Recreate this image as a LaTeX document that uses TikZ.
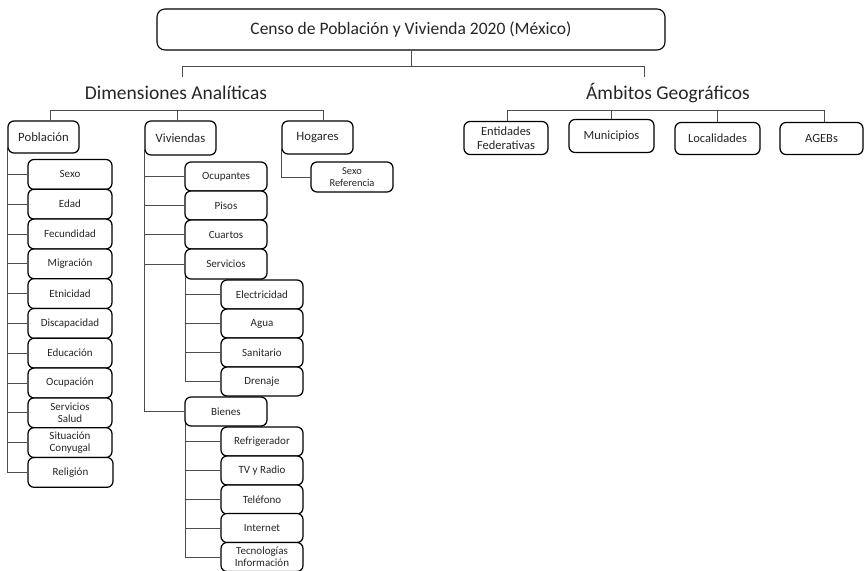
\documentclass[tikz,border=0pt]{standalone}
\usepackage{fontspec}
\setmainfont{Carlito}
\usetikzlibrary{backgrounds}
\begin{document}
\begin{tikzpicture}[x=1pt,y=-1pt,
  box/.style={draw=black, line width=1.25pt, rounded corners=6pt, fill=white, inner sep=0pt, align=center, text=black!85},
  sbox/.style={box, minimum width=84pt, minimum height=29.8pt, font=\fontsize{11}{12.5}\selectfont},
  vbox/.style={box, minimum width=82pt, minimum height=29pt, font=\fontsize{11}{12.5}\selectfont},
  mbox/.style={box, font=\fontsize{12.75}{14.5}\selectfont},
  gbox/.style={box, font=\fontsize{12.5}{14.5}\selectfont},
  conn/.style={draw=black!70, line width=0.9pt},
  hdr/.style={font=\fontsize{19.5}{22}\selectfont, inner sep=0pt, text=black!85}
]
\useasboundingbox (0,0) rectangle (864,570);

% title and headers
\node[box, line width=1.1pt, rounded corners=8pt, minimum width=508pt, minimum height=41pt, font=\fontsize{17.5}{20}\selectfont] (title) at (411,29.5) {Censo de Población y Vivienda 2020 (México)};
\node[hdr] (dim) at (176,93) {Dimensiones Analíticas};
\node[hdr] (amb) at (668,93) {Ámbitos Geográficos};
\coordinate (dimtop) at (182,77);
\coordinate (ambtop) at (644,77);
\coordinate (bar) at (0,110);

% level 2
\node[mbox, minimum width=71pt, minimum height=32pt] (pob) at (43.5,137) {Población};
\node[mbox, minimum width=71pt, minimum height=34pt] (viv) at (180.5,138) {Viviendas};
\node[mbox, minimum width=71pt, minimum height=33pt] (hog) at (317.5,137.5) {Hogares};

\node[gbox, minimum width=84pt, minimum height=33pt] (ent) at (506,138) {Entidades\\Federativas};
\node[gbox, minimum width=85pt, minimum height=33pt] (mun) at (611.5,136) {Municipios};
\node[gbox, minimum width=85pt, minimum height=32pt] (loc) at (717.5,138.5) {Localidades};
\node[gbox, minimum width=83pt, minimum height=32pt] (ageb) at (821.5,138.5) {AGEBs};

% Poblacion children
\node[sbox] (sexo) at (70,174.4) {Sexo};
\node[sbox] (edad) at (70,204.2) {Edad};
\node[sbox] (fec) at (70,234) {Fecundidad};
\node[sbox] (mig) at (70,263.8) {Migración};
\node[sbox] (etn) at (70,293.6) {Etnicidad};
\node[sbox] (disc) at (70,323.4) {Discapacidad};
\node[sbox] (edu) at (70,353.2) {Educación};
\node[sbox] (ocu) at (70,383) {Ocupación};
\node[sbox, font=\fontsize{11}{12}\selectfont] (salud) at (70,412.8) {Servicios\\Salud};
\node[sbox, font=\fontsize{11}{12}\selectfont] (conyu) at (70,442.6) {Situación\\Conyugal};
\node[sbox, minimum width=85pt] (rel) at (70.5,472.4) {Religión};

% Viviendas children
\node[vbox] (ocup) at (226,176.5) {Ocupantes};
\node[vbox] (pisos) at (226,205.5) {Pisos};
\node[vbox] (cuar) at (226,234.5) {Cuartos};
\node[vbox, minimum height=30pt] (serv) at (226,264) {Servicios};
\node[vbox] (bien) at (226,411.5) {Bienes};

\node[vbox] (elec) at (262,294.5) {Electricidad};
\node[vbox] (agua) at (262,323.5) {Agua};
\node[vbox] (sani) at (262,352.5) {Sanitario};
\node[vbox] (dren) at (262,381.5) {Drenaje};

\node[vbox] (refr) at (262,441.5) {Refrigerador};
\node[vbox] (tv) at (262,470.5) {TV y Radio};
\node[vbox] (tel) at (262,499.5) {Teléfono};
\node[vbox] (inter) at (262,528) {Internet};
\node[vbox, font=\fontsize{11}{12}\selectfont] (tec) at (262,557) {Tecnologías\\Información};

% Hogares child
\node[vbox, minimum height=30pt, font=\fontsize{10.5}{12}\selectfont] (sref) at (352,177) {Sexo\\Referencia};

\begin{pgfonlayer}{background}
  \draw[conn] (title.south) -- ++(0,15.5) -| (dimtop);
  \draw[conn] (title.south) -- ++(0,15.5) -| (ambtop);
  % dimensiones bar
  \draw[conn] ([xshift=6.5pt]pob.north) -- ([xshift=6.5pt]pob.north |- bar) -| ([xshift=5.5pt]hog.north);
  \draw[conn] ([xshift=-3.5pt]viv.north) -- ([xshift=-3.5pt]viv.north |- bar);
  % geo bar
  \draw[conn] ([xshift=1pt]ent.north) -- ([xshift=1pt]ent.north |- bar) -| ([xshift=2.5pt]ageb.north);
  \draw[conn] (mun.north) -- (mun.north |- bar);
  \draw[conn] (loc.north) -- (loc.north |- bar);
  % trees
  \foreach \c in {sexo,edad,fec,mig,etn,disc,edu,ocu,salud,conyu,rel}
    \draw[conn] ([xshift=0.3pt,yshift=6pt]pob.south west) |- (\c.west);
  \foreach \c in {ocup,pisos,cuar,serv,bien}
    \draw[conn] ([xshift=0.3pt,yshift=6pt]viv.south west) |- (\c.west);
  \foreach \c in {elec,agua,sani,dren}
    \draw[conn] ([xshift=1pt,yshift=6pt]serv.south west) |- (\c.west);
  \foreach \c in {refr,tv,tel,inter,tec}
    \draw[conn] ([xshift=1pt,yshift=6pt]bien.south west) |- (\c.west);
  \draw[conn] ([xshift=0.3pt,yshift=6pt]hog.south west) |- (sref.west);
\end{pgfonlayer}
\end{tikzpicture}
\end{document}
